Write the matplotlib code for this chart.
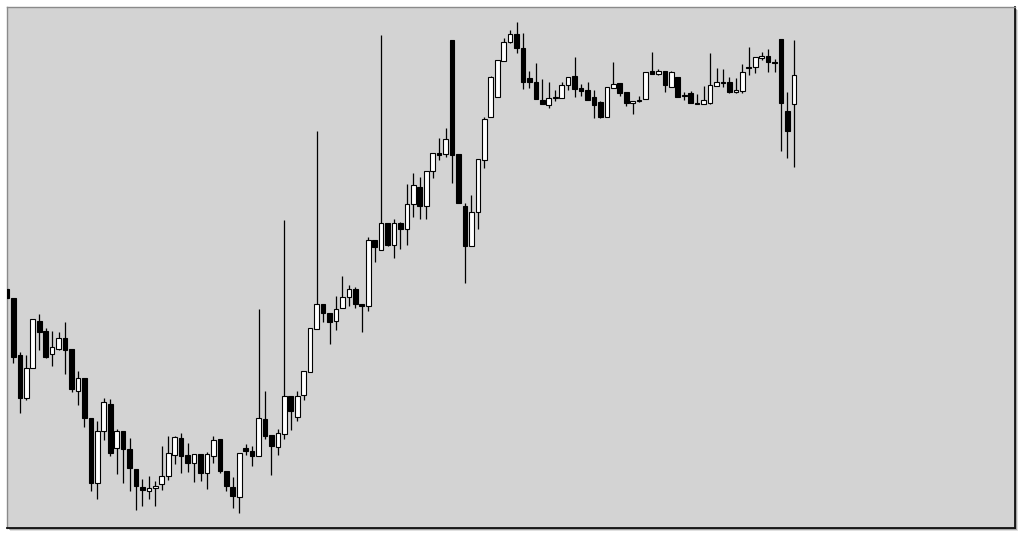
import numpy as np
import matplotlib.pyplot as plt
from matplotlib.patches import Rectangle

# OHLC values (arbitrary price units)
opens = [239, 230, 173, 130, 160, 207, 197, 174, 179, 190,
         179, 137, 150, 110, 45, 97, 124, 80, 97, 79,
         59, 41, 37, 40, 44, 52, 73, 90, 73, 65,
         74, 55, 72, 89, 57, 41, 31, 80, 77, 72,
         109, 93, 81, 94, 132, 111, 133, 156, 199, 224,
         215, 207, 220, 231, 239, 224, 222, 288, 278, 305,
         283, 305, 299, 324, 341, 322, 357, 375, 374, 488,
         374, 322, 282, 316, 368, 411, 431, 467, 486, 494,
         480, 450, 446, 428, 423, 430, 430, 443, 452, 440,
         438, 431, 426, 411, 440, 445, 436, 425, 427.5, 429,
         457, 454, 457, 441, 451, 433, 435, 425, 424, 425,
         442, 446, 446, 436, 437, 461, 461, 470, 472, 466,
         489, 417, 424]
highs = [240, 230, 176, 173, 209, 214, 200, 197, 196, 206,
         179, 157, 150, 110, 107, 130, 129, 99, 97, 90,
         59, 49, 52, 47, 82, 92, 92, 95, 85, 74,
         74, 76, 92, 89, 57, 51, 75, 84, 82, 219,
         137, 93, 99, 308, 132, 137, 157, 200, 397, 224,
         215, 232, 252, 243, 241, 224, 291, 288, 493, 305,
         309, 306, 344, 355, 351, 357, 375, 390, 400, 488,
         374, 325, 333, 369, 411, 452, 468, 490, 498, 506,
         495, 457, 465, 449, 446, 438, 446, 451, 471, 444,
         446, 438, 427, 441, 466, 445, 436, 427, 432, 456,
         476, 459, 457, 457, 451, 436, 437, 434, 442, 475,
         460, 459, 451, 450, 464, 481, 471, 476, 479, 469,
         489, 436, 488]
lows = [229, 165, 115, 128, 160, 178, 170, 162, 178, 154,
        136, 123, 101, 37, 29, 88, 72, 54, 45, 37,
        18, 22, 29, 22, 38, 48, 64, 55, 56, 46,
        47, 39, 65, 55, 37, 20, 15, 73, 62, 72,
        89, 53, 73, 89, 98, 107, 128, 156, 199, 206,
        184, 198, 220, 222, 220, 196, 217, 266, 278, 282,
        270, 279, 283, 311, 309, 309, 350, 368, 371, 345,
        325, 245, 282, 299, 360, 411, 431, 467, 485, 475,
        439, 440, 429, 424, 420, 427, 430, 438, 431, 432,
        428, 410, 410, 411, 440, 432, 422, 414, 426, 429,
        454, 453, 436, 441, 431, 428, 425, 424, 424, 424,
        442, 441, 435, 435, 435, 453, 455, 468, 456, 456,
        377, 370, 361]
closes = [230, 171, 130, 160, 209, 196, 171, 181, 190, 178,
          139, 150, 110, 45, 97, 126, 75, 97, 79, 60,
          42, 38, 40, 42, 52, 75, 91, 72, 65, 74,
          55, 74, 88, 57, 42, 32, 75, 77, 72, 110,
          92, 82, 95, 132, 117, 132, 157, 200, 224, 215,
          206, 219, 231, 239, 224, 222, 288, 281, 305, 283,
          305, 299, 324, 343, 322, 357, 375, 373, 389, 373,
          325, 282, 316, 369, 409, 451, 468, 486, 494, 480,
          446, 446, 429, 424, 430, 431, 443, 451, 439, 437,
          428, 423, 411, 441, 444, 435, 425, 427, 428.5, 456,
          454, 457, 443, 456, 431, 432.5, 425, 424, 428, 443,
          446, 445, 436, 438, 456, 460, 471, 472, 466, 465,
          425, 397, 453]

W, H = 1024, 536
fig = plt.figure(figsize=(W / 100, H / 100), dpi=100, facecolor='white')

# frame position in pixels
left, right, top, bottom = 7, 1015, 7, 528
ax = fig.add_axes([left / W, (H - bottom) / H, (right - left) / W, (bottom - top) / H])
ax.set_zorder(2)

# soft drop shadow behind the frame
for k, a in zip([3, 2, 1], [0.12, 0.25, 0.45]):
    fig.patches.append(Rectangle(((left + k) / W, (H - bottom - k) / H),
                                 (right - left) / W, (bottom - top) / H,
                                 transform=fig.transFigure, facecolor='black',
                                 edgecolor='none', alpha=a, zorder=-1))

ax.set_facecolor('#d3d3d3')
bw = 0.72
for i, (o, h, l, c) in enumerate(zip(opens, highs, lows, closes)):
    ax.plot([i, i], [l, h], color='black', lw=0.9, zorder=2, solid_capstyle='butt')
    lo, hi = min(o, c), max(o, c)
    fc = 'white' if c >= o else 'black'
    ax.add_patch(Rectangle((i - bw / 2, lo), bw, max(hi - lo, 0.3),
                           facecolor=fc, edgecolor='black', lw=0.8, zorder=3))

ax.set_xlim(0, (right - left) / 6.45)
ax.set_ylim(0, bottom - top)
ax.set_xticks([])
ax.set_yticks([])
# light edge top/left, dark edge right/bottom
for side in ('top', 'left'):
    ax.spines[side].set_color('#8a8a8a')
    ax.spines[side].set_linewidth(1.0)
for side in ('right', 'bottom'):
    ax.spines[side].set_color('#111111')
    ax.spines[side].set_linewidth(1.3)

fig.savefig('out.png', dpi=100, facecolor='white')
